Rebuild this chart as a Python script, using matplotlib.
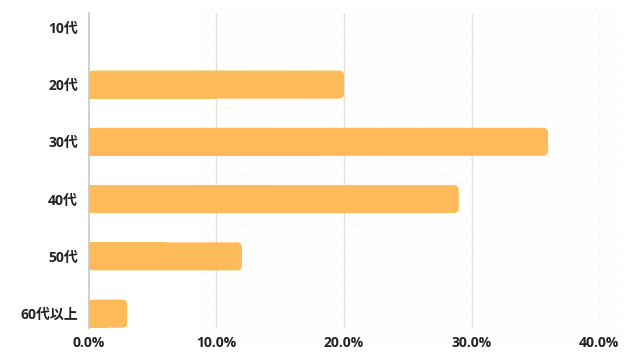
import numpy as np
import matplotlib
matplotlib.use("Agg")
import matplotlib.pyplot as plt
from matplotlib.patches import FancyBboxPatch, Rectangle

plt.rcParams['font.family'] = ['Open Sans', 'Noto Sans CJK JP', 'DejaVu Sans']

age_groups = ["10代", "20代", "30代", "40代", "50代", "60代以上"]
shares = [0.0, 20.0, 36.0, 29.0, 12.0, 3.0]
x_ticks = [0, 10, 20, 30, 40]
x_tick_labels = ["0.0%", "10.0%", "20.0%", "30.0%", "40.0%"]

bar_color = "#FFBB5A"
bar_h = 0.49

fig = plt.figure(figsize=(6.4, 3.6), dpi=100)

# faint dotted background pattern
plt.rcParams['hatch.linewidth'] = 0.8
bg = fig.add_axes([0.31, 0.04, 0.655, 0.94])
bg.set_axis_off()
bg.add_patch(Rectangle((0, 0), 1, 1, transform=bg.transAxes, facecolor="none",
                       edgecolor="#FEF7EC", hatch="..", linewidth=0))

ax = fig.add_axes([0.139, 0.089, 0.797, 0.875])
ax.patch.set_alpha(0)
ax.set_xlim(0, 40)
ax.set_ylim(5.25, -0.25)

# px -> data conversion for round corners
px_x = 40 / 510.0
px_y = 5.5 / 315.0
r = 5 * px_x
aspect = px_y / px_x

for i, v in enumerate(shares):
    if v <= 0:
        continue
    y0 = i - bar_h / 2
    ax.add_patch(FancyBboxPatch((0, y0), v, bar_h,
                                boxstyle="round,pad=0,rounding_size=%f" % r,
                                mutation_aspect=aspect, facecolor=bar_color,
                                edgecolor="none", zorder=3))
    ax.add_patch(Rectangle((0, y0), v / 2, bar_h, facecolor=bar_color,
                           edgecolor="none", zorder=3))

ax.set_xticks(x_ticks)
ax.set_xticklabels(x_tick_labels, fontsize=10, fontweight="bold", color="#222222")
ax.set_yticks(range(len(age_groups)))
ax.set_yticklabels(age_groups, fontsize=10, fontweight="bold", color="#222222")
ax.tick_params(length=0)
ax.tick_params(axis="y", pad=8)
ax.tick_params(axis="x", pad=6)

for t in x_ticks[1:]:
    ax.axvline(t, color="#E2E2E2", linewidth=1, zorder=1)

for s in ["top", "right", "bottom"]:
    ax.spines[s].set_visible(False)
ax.spines["left"].set_color("#C8C8C8")
ax.spines["left"].set_linewidth(1.2)

fig.savefig("out.png", dpi=100)
